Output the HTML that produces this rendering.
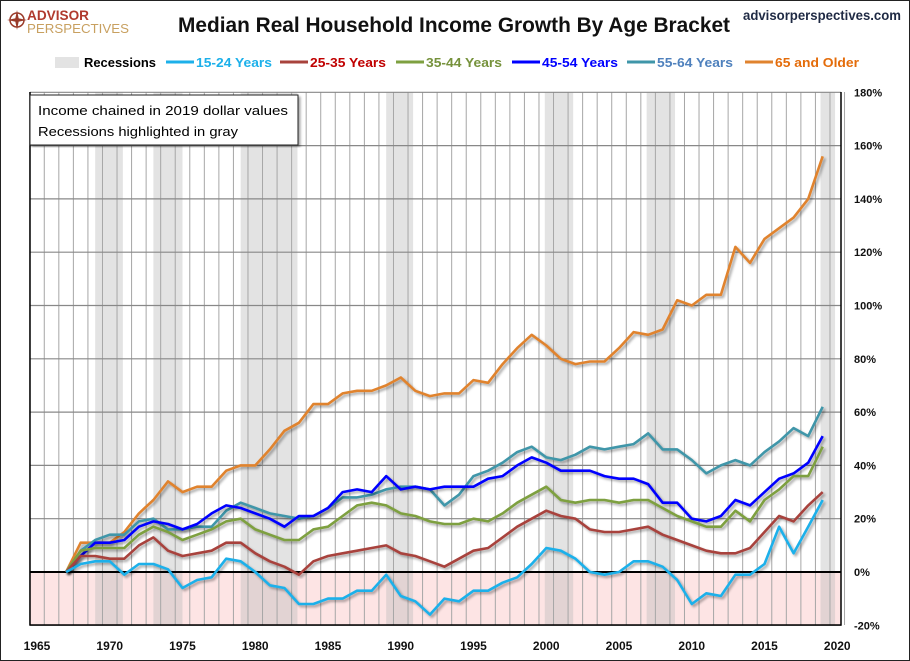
<!DOCTYPE html>
<html><head><meta charset="utf-8"><style>
html,body{margin:0;padding:0;background:#fff;}
svg{display:block;font-family:"Liberation Sans",sans-serif;}
</style></head><body>
<svg id="chart" width="910" height="661" viewBox="0 0 910 661" xmlns="http://www.w3.org/2000/svg">
<defs><filter id="sh" x="-5%" y="-5%" width="110%" height="110%"><feDropShadow dx="2" dy="2" stdDeviation="1.2" flood-color="#000" flood-opacity="0.35"/></filter></defs>
<rect x="0.5" y="0.5" width="909" height="660" fill="#fff" stroke="#222"/>
<g>
<circle cx="17" cy="20" r="7" fill="none" stroke="#9a3b2a" stroke-width="1.5"/>
<path d="M17 10 L19 20 L17 30 L15 20Z M7 20 L17 18 L27 20 L17 22Z" fill="#9a3b2a"/>
<text x="27" y="20" font-size="14" font-weight="bold" fill="#b03a2e" textLength="62" lengthAdjust="spacingAndGlyphs">ADVISOR</text>
<text x="27" y="33" font-size="13" fill="#c8a060" textLength="102" lengthAdjust="spacingAndGlyphs">PERSPECTIVES</text>
</g>
<text x="454" y="32" text-anchor="middle" font-size="21" font-weight="bold" fill="#111" textLength="552" lengthAdjust="spacingAndGlyphs">Median Real Household Income Growth By Age Bracket</text>
<text x="901" y="20" text-anchor="end" font-size="14" font-weight="bold" fill="#1f2a44" textLength="158" lengthAdjust="spacingAndGlyphs">advisorperspectives.com</text>
<g id="legend"></g>
<g id="plot"></g>
<g>
<rect x="30" y="95" width="268" height="50" fill="#fff" stroke="#222" filter="url(#sh)"/>
<text x="38" y="115" font-size="13" fill="#000" textLength="250" lengthAdjust="spacingAndGlyphs">Income chained in 2019 dollar values</text>
<text x="38" y="136" font-size="13" fill="#000" textLength="200" lengthAdjust="spacingAndGlyphs">Recessions highlighted in gray</text>
</g>
</svg>
<script>
const years = [];
for (let y = 1967; y <= 2019; y++) years.push(y);
const s1524 = [0,3,4,4,-1, 3,3,1,-6,-3, -2,5,4,0,-5, -6,-12,-12,-10,-10, -7,-7,-1,-9,-11, -16,-10,-11,-7,-7, -4,-2,3,9,8, 5,0,-1,0,4, 4,2,-3,-12,-8, -9,-1,-1,3,17, 7,17,27];
const s2534 = [0,6,6,5,5, 10,13,8,6,7, 8,11,11,7,4, 2,-1,4,6,7, 8,9,10,7,6, 4,2,5,8,9, 13,17,20,23,21, 20,16,15,15,16, 17,14,12,10,8, 7,7,9,15,21, 19,25,30];
const s3544 = [0,8,9,9,9, 14,17,15,12,14, 16,19,20,16,14, 12,12,16,17,21, 25,26,25,22,21, 19,18,18,20,19, 22,26,29,32,27, 26,27,27,26,27, 27,24,21,19,17, 17,23,19,27,31, 36,36,47];
const s4554 = [0,6,11,11,12, 17,19,18,16,18, 22,25,24,22,20, 17,21,21,24,30, 31,30,36,31,32, 31,32,32,32,35, 36,40,43,41,38, 38,38,36,35,35, 33,26,26,20,19, 21,27,25,30,35, 37,41,51];
const s5564 = [0,8,12,14,14, 19,20,16,16,17, 17,23,26,24,22, 21,20,21,24,28, 28,29,31,32,32, 31,25,29,36,38, 41,45,47,43,42, 44,47,46,47,48, 52,46,46,42,37, 40,42,40,45,49, 54,51,62];
const s65 = [0,11,11,11,15, 22,27,34,30,32, 32,38,40,40,46, 53,56,63,63,67, 68,68,70,73,68, 66,67,67,72,71, 78,84,89,85,80, 78,79,79,84,90, 89,91,102,100,104, 104,122,116,125,129, 133,140,156];
const recStart = [1969.0,1973.0,1979.0,1989.0,1999.9,2006.9,2018.85];
const recEnd   = [1970.9,1975.0,1982.9,1990.85,2001.85,2008.85,2019.85];
const yTicks = [-20,0,20,40,60,80,100,120,140,160,180];
const xTicks = [1965,1970,1975,1980,1985,1990,1995,2000,2005,2010,2015,2020];

const L=30,R=841,T=92,B=625;
const X = y => 37 + (y-1965)*14.55;
const Y = v => 572 - v*2.665;
const NS="http://www.w3.org/2000/svg";
const plot=document.getElementById('plot');
function el(tag,attrs,parent){const e=document.createElementNS(NS,tag);for(const k in attrs)e.setAttribute(k,attrs[k]);(parent||plot).appendChild(e);return e;}

// negative zone
let neg=el('rect',{x:L,y:Y(0),width:R-L,height:B-Y(0),fill:'#fde4e4'});


// recessions
for(let i=0;i<recStart.length;i++){
  const r=el('rect',{x:X(recStart[i]),y:T,width:X(recEnd[i])-X(recStart[i]),height:B-T,fill:'#bdbdbd','fill-opacity':0.42});
  
  
}
// vertical gridlines
for(let y=1964.5;y<=2020.5;y+=1){
  const g=el('line',{x1:X(y),x2:X(y),y1:T,y2:B,stroke:'#a6a6a6','stroke-width':1});
  
  
}
// horizontal gridlines + labels
yTicks.forEach(v=>{
  const g=el('line',{x1:L,x2:R,y1:Y(v),y2:Y(v),stroke:v===0?'#000':'#888','stroke-width':v===0?2:1.2});
  
  
  const t=el('text',{x:854,y:Y(v)+4,'font-size':11,'font-weight':'bold',fill:'#111'});
  t.textContent=v+'%';
  
  
});
xTicks.forEach(v=>{
  const t=el('text',{x:X(v),y:650,'text-anchor':'middle','font-size':12,'font-weight':'bold',fill:'#111'});
  t.textContent=v;
  
  
});
// frame
const fr=el('path',{d:`M${L} ${T} V${B} H${R} V${T}`,fill:'none',stroke:'#000','stroke-width':1.5});



const series=[
 {d:s1524,c:'#1cb0ea',n:'15-24 Years',lc:'#1cb0ea',lx:196,id:'series-15-24'},
 {d:s2534,c:'#a8433c',n:'25-35 Years',lc:'#c00000',lx:310,id:'series-25-35'},
 {d:s3544,c:'#7ea040',n:'35-44 Years',lc:'#76923c',lx:426,id:'series-35-44'},
 {d:s4554,c:'#0000ff',n:'45-54 Years',lc:'#0000ff',lx:542,id:'series-45-54'},
 {d:s5564,c:'#3f96a9',n:'55-64 Years',lc:'#4f81bd',lx:657,id:'series-55-64'},
 {d:s65,c:'#e0832f',n:'65 and Older',lc:'#e46c0a',lx:775,id:'series-65-older'}
];
const order=[5,4,3,2,1,0];
order.forEach(i=>{
  const s=series[i];
  const pts=s.d.map((v,k)=>X(years[k]).toFixed(1)+','+Y(v).toFixed(1)).join(' ');
  const p=el('polyline',{points:pts,fill:'none',stroke:s.c,'stroke-width':2.6,'stroke-linejoin':'round',filter:'url(#sh)'});
  
  
});
// legend
const lg=document.getElementById('legend');
let sw=el('rect',{x:55,y:57,width:24,height:11,fill:'#e3e3e3'},lg);


let lt=el('text',{x:84,y:67,'font-size':13,'font-weight':'bold',fill:'#000',textLength:72,lengthAdjust:'spacingAndGlyphs'},lg);
lt.textContent='Recessions';


series.forEach(s=>{
  const ln=el('line',{x1:s.lx-30,x2:s.lx-2,y1:62,y2:62,stroke:s.c,'stroke-width':3},lg);
  
  
  const t=el('text',{x:s.lx,y:67,'font-size':13,'font-weight':'bold',fill:s.lc,textLength:s.n.length>11?84:76,lengthAdjust:'spacingAndGlyphs'},lg);
  t.textContent=s.n;
  
  
});
</script>
</body></html>
